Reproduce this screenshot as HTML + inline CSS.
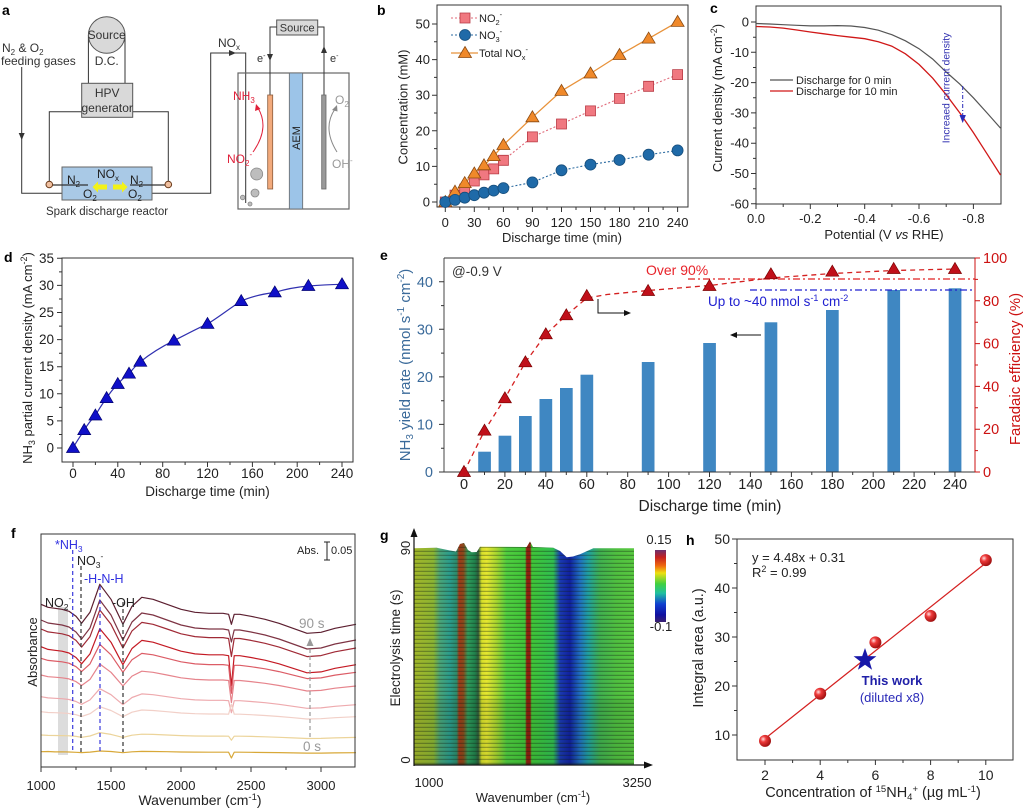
<!DOCTYPE html>
<html><head><meta charset="utf-8"><style>html,body{margin:0;padding:0;background:#fff}svg{display:block}</style></head>
<body>
<svg xmlns="http://www.w3.org/2000/svg" width="1024" height="808" viewBox="0 0 1024 808" font-family="Liberation Sans, Arial, sans-serif">
<defs>
<path id="tri" d="M0,-6.5L6.5,4.5H-6.5Z"/>
<path id="sq" d="M-5,-5h10v10h-10Z"/>
<radialGradient id="sph" cx="0.35" cy="0.35" r="0.7"><stop offset="0" stop-color="#ffe0e0"/><stop offset="0.35" stop-color="#ee3a3a"/><stop offset="1" stop-color="#9a0c0c"/></radialGradient>
<linearGradient id="hm" x1="414" y1="0" x2="634" y2="0" gradientUnits="userSpaceOnUse">
<stop offset="0" stop-color="#a2b62a"/><stop offset="0.088" stop-color="#8cb432"/><stop offset="0.118" stop-color="#4aa478"/><stop offset="0.164" stop-color="#2a9c8c"/><stop offset="0.194" stop-color="#2e8a6a"/><stop offset="0.205" stop-color="#a03818"/><stop offset="0.225" stop-color="#8a4a1c"/><stop offset="0.245" stop-color="#2e9c5c"/><stop offset="0.277" stop-color="#20804c"/><stop offset="0.292" stop-color="#2e5a3a"/><stop offset="0.308" stop-color="#d6de2a"/><stop offset="0.33" stop-color="#e6e630"/><stop offset="0.376" stop-color="#a6d630"/><stop offset="0.421" stop-color="#50ce40"/><stop offset="0.505" stop-color="#40c638"/><stop offset="0.512" stop-color="#902010"/><stop offset="0.528" stop-color="#902010"/><stop offset="0.535" stop-color="#40c638"/><stop offset="0.633" stop-color="#30be50"/><stop offset="0.664" stop-color="#1a3ab0"/><stop offset="0.709" stop-color="#1020a0"/><stop offset="0.755" stop-color="#2070c0"/><stop offset="0.792" stop-color="#20a0a0"/><stop offset="0.845" stop-color="#40b050"/><stop offset="0.921" stop-color="#50c040"/><stop offset="1" stop-color="#58c840"/>
</linearGradient>
<pattern id="streak" x="0" y="0" width="220" height="4" patternUnits="userSpaceOnUse"><rect x="0" y="2.8" width="220" height="1" fill="#102010" opacity="0.42"/></pattern>
<linearGradient id="cb" x1="0" y1="0" x2="0" y2="1"><stop offset="0" stop-color="#6a3070"/><stop offset="0.1" stop-color="#c42020"/><stop offset="0.22" stop-color="#f06a10"/><stop offset="0.32" stop-color="#eee010"/><stop offset="0.47" stop-color="#40d040"/><stop offset="0.6" stop-color="#20c0a0"/><stop offset="0.75" stop-color="#1040d0"/><stop offset="0.9" stop-color="#1010a0"/><stop offset="1" stop-color="#3a2070"/></linearGradient>
</defs>
<rect width="1024" height="808" fill="#fff"/>

<!-- ================= Panel a ================= -->
<g fill="#333" font-size="12">
<text x="2" y="15" font-weight="bold" font-size="14" fill="#000">a</text>
<text x="2" y="52">N<tspan font-size="8" dy="3">2</tspan><tspan dy="-3"> &amp; O</tspan><tspan font-size="8" dy="3">2</tspan></text>
<text x="1" y="65">feeding gases</text>
</g>
<g stroke="#333" stroke-width="1" fill="none">
<polyline points="21.7,67 21.7,193.3 62,193.3"/>
<polyline points="152,193.3 210.7,193.3 210.7,53 245.7,53 245.7,203"/>
<line x1="88.4" y1="35" x2="88.4" y2="83.3"/>
<line x1="125" y1="35" x2="125" y2="83.3"/>
<polyline points="81.7,111.7 49.3,111.7 49.3,181"/>
<polyline points="132.7,111.7 168.3,111.7 168.3,181"/>
</g>
<polygon points="21.7,140 18.7,133 24.7,133" fill="#333"/>
<polygon points="236,53 229,50 229,56" fill="#333"/>
<circle cx="106.7" cy="35" r="18.3" fill="#d9d9d9" stroke="#555" stroke-width="1"/>
<text x="106.7" y="39" font-size="12" text-anchor="middle" fill="#333">Source</text>
<text x="106.7" y="65" font-size="12" text-anchor="middle" fill="#333">D.C.</text>
<rect x="81.7" y="83.3" width="51" height="34" fill="#d9d9d9" stroke="#555"/>
<text x="107.2" y="97" font-size="12" text-anchor="middle" fill="#333">HPV</text>
<text x="107.2" y="112" font-size="12" text-anchor="middle" fill="#333">generator</text>
<rect x="62" y="167" width="90" height="33" fill="#a9c9e6" stroke="#666"/>
<line x1="49.3" y1="185" x2="88" y2="185" stroke="#333" stroke-width="1.2"/>
<line x1="130" y1="185" x2="168.3" y2="185" stroke="#333" stroke-width="1.2"/>
<circle cx="49.3" cy="184.5" r="3.3" fill="#f0c0a0" stroke="#6a3a1a"/>
<circle cx="168.3" cy="184.5" r="3.3" fill="#f0c0a0" stroke="#6a3a1a"/>
<polygon points="107,184.5 98,184.5 98,181.5 92.5,187 98,192.5 98,189.5 107,189.5" fill="#f2f218"/>
<polygon points="113,184.5 122,184.5 122,181.5 127.5,187 122,192.5 122,189.5 113,189.5" fill="#f2f218"/>
<g font-size="12" fill="#222">
<text x="67" y="184">N<tspan font-size="8" dy="3">2</tspan></text>
<text x="83" y="198">O<tspan font-size="8" dy="3">2</tspan></text>
<text x="97" y="178">NO<tspan font-size="8" dy="3">x</tspan></text>
<text x="130" y="184">N<tspan font-size="8" dy="3">2</tspan></text>
<text x="128" y="198">O<tspan font-size="8" dy="3">2</tspan></text>
</g>
<text x="107" y="215" font-size="11.5" text-anchor="middle" fill="#333">Spark discharge reactor</text>
<text x="218" y="47" font-size="12" fill="#333">NO<tspan font-size="8" dy="3">x</tspan></text>
<!-- cell -->
<rect x="238" y="73" width="111" height="136" fill="none" stroke="#666" stroke-width="1.2"/>
<rect x="276.7" y="20" width="41" height="15" fill="#d9d9d9" stroke="#555"/>
<text x="297.2" y="31.5" font-size="11" text-anchor="middle" fill="#333">Source</text>
<polyline points="276.7,27 270,27 270,95" fill="none" stroke="#333"/>
<polyline points="317.7,27 324,27 324,95" fill="none" stroke="#333"/>
<polygon points="270,61 267,54 273,54" fill="#333"/>
<polygon points="324,46 321,53 327,53" fill="#333"/>
<text x="257" y="62" font-size="11" fill="#333">e<tspan font-size="7" dy="-4">-</tspan></text>
<text x="330" y="62" font-size="11" fill="#333">e<tspan font-size="7" dy="-4">-</tspan></text>
<rect x="267.7" y="95" width="5" height="94" fill="#f2aa7c" stroke="#8a5a3a" stroke-width="0.8"/>
<rect x="321.7" y="95" width="4.3" height="94" fill="#9a9a9a" stroke="#666" stroke-width="0.8"/>
<rect x="289.3" y="73" width="13.4" height="136" fill="#9cc4e8" stroke="#666" stroke-width="0.8"/>
<text transform="translate(300,138) rotate(-90)" font-size="11" text-anchor="middle" fill="#222">AEM</text>
<text x="233" y="100" font-size="12" fill="#e0203a">NH<tspan font-size="8" dy="3">3</tspan></text>
<text x="227" y="163" font-size="12" fill="#e0203a">NO<tspan font-size="8" dy="3">2</tspan><tspan font-size="8" dy="-9">-</tspan></text>
<path d="M253,152 Q270,128 258,108" fill="none" stroke="#e0203a" stroke-width="1"/>
<polygon points="256,104 255,111 260.5,109" fill="#e0203a"/>
<text x="335" y="104" font-size="12" fill="#999">O<tspan font-size="8" dy="3">2</tspan></text>
<text x="332" y="168" font-size="12" fill="#999">OH<tspan font-size="8" dy="-5">-</tspan></text>
<path d="M337,152 Q322,128 335,109" fill="none" stroke="#888" stroke-width="1"/>
<polygon points="337,105 332,110 337.5,111.5" fill="#888"/>
<g fill="#bdbdbd" stroke="#888" stroke-width="0.8">
<circle cx="256.7" cy="174" r="6"/><circle cx="255" cy="193" r="4"/><circle cx="242.7" cy="197.5" r="2.3"/><circle cx="250" cy="204" r="2"/>
</g>

<!-- ================= Panel b ================= -->
<text x="377" y="15" font-weight="bold" font-size="14">b</text>
<rect x="437" y="5" width="251" height="202" fill="none" stroke="#333" stroke-width="1"/>
<path d="M437,202h-5M437,166.4h-5M437,130.8h-5M437,95.2h-5M437,59.6h-5M437,24h-5M437,184.2h-3M437,148.6h-3M437,113h-3M437,77.4h-3M437,41.8h-3M445.3,207v5M474.3,207v5M503.4,207v5M532.4,207v5M561.5,207v5M590.5,207v5M619.5,207v5M648.6,207v5M677.6,207v5M459.8,207v3M488.9,207v3M517.9,207v3M547,207v3M576,207v3M605,207v3M634,207v3M663.1,207v3" stroke="#333" fill="none"/>
<g font-size="13" text-anchor="end" fill="#222">
<text x="430" y="206.5">0</text><text x="430" y="170.9">10</text><text x="430" y="135.3">20</text><text x="430" y="99.7">30</text><text x="430" y="64.1">40</text><text x="430" y="28.5">50</text>
</g>
<g font-size="13" text-anchor="middle" fill="#222">
<text x="445.3" y="227">0</text><text x="474.3" y="227">30</text><text x="503.4" y="227">60</text><text x="532.4" y="227">90</text><text x="561.5" y="227">120</text><text x="590.5" y="227">150</text><text x="619.5" y="227">180</text><text x="648.6" y="227">210</text><text x="677.6" y="227">240</text>
<text x="562" y="242">Discharge time (min)</text>
<text transform="translate(407.5,107) rotate(-90)">Concentration (mM)</text>
</g>
<polyline points="445.3,202 455,195.2 464.7,189.2 474.3,181 484,174.9 493.7,168.9 503.4,160.3 532.4,136.9 561.5,124 590.5,110.9 619.5,98.4 648.6,86.3 677.6,74.6" fill="none" stroke="#e06878" stroke-width="1.1" stroke-dasharray="2,2"/>
<polyline points="445.3,202 455,199.9 464.7,197.7 474.3,195.2 484,192.7 493.7,190.6 503.4,188.1 532.4,182.4 561.5,170.3 590.5,164.6 619.5,160 648.6,154.7 677.6,150.4" fill="none" stroke="#2a6aa0" stroke-width="1.1" stroke-dasharray="2,2"/>
<polyline points="445.3,202 455,191.7 464.7,183.1 474.3,173.5 484,165.3 493.7,156.1 503.4,145 532.4,117.3 561.5,90.9 590.5,73.5 619.5,55 648.6,38.6 677.6,21.9" fill="none" stroke="#e8923a" stroke-width="1.3"/>
<g fill="#f07880" stroke="#b83a44" stroke-width="0.8">
<use href="#sq" x="445.3" y="202"/><use href="#sq" x="455" y="195.2"/><use href="#sq" x="464.7" y="189.2"/><use href="#sq" x="474.3" y="181"/><use href="#sq" x="484" y="174.9"/><use href="#sq" x="493.7" y="168.9"/><use href="#sq" x="503.4" y="160.3"/><use href="#sq" x="532.4" y="136.9"/><use href="#sq" x="561.5" y="124"/><use href="#sq" x="590.5" y="110.9"/><use href="#sq" x="619.5" y="98.4"/><use href="#sq" x="648.6" y="86.3"/><use href="#sq" x="677.6" y="74.6"/>
</g>
<g fill="#f0892a" stroke="#8a4a12" stroke-width="0.8">
<use href="#tri" x="445.3" y="202"/><use href="#tri" x="455" y="191.7"/><use href="#tri" x="464.7" y="183.1"/><use href="#tri" x="474.3" y="173.5"/><use href="#tri" x="484" y="165.3"/><use href="#tri" x="493.7" y="156.1"/><use href="#tri" x="503.4" y="145"/><use href="#tri" x="532.4" y="117.3"/><use href="#tri" x="561.5" y="90.9"/><use href="#tri" x="590.5" y="73.5"/><use href="#tri" x="619.5" y="55"/><use href="#tri" x="648.6" y="38.6"/><use href="#tri" x="677.6" y="21.9"/>
</g>
<g fill="#1f6aa8" stroke="#174e7c" stroke-width="0.8">
<circle cx="445.3" cy="202" r="5.5"/><circle cx="455" cy="199.9" r="5.5"/><circle cx="464.7" cy="197.7" r="5.5"/><circle cx="474.3" cy="195.2" r="5.5"/><circle cx="484" cy="192.7" r="5.5"/><circle cx="493.7" cy="190.6" r="5.5"/><circle cx="503.4" cy="188.1" r="5.5"/><circle cx="532.4" cy="182.4" r="5.5"/><circle cx="561.5" cy="170.3" r="5.5"/><circle cx="590.5" cy="164.6" r="5.5"/><circle cx="619.5" cy="160" r="5.5"/><circle cx="648.6" cy="154.7" r="5.5"/><circle cx="677.6" cy="150.4" r="5.5"/>
</g>
<!-- legend b -->
<line x1="451" y1="18" x2="478" y2="18" stroke="#e06878" stroke-dasharray="2,2"/>
<use href="#sq" x="465" y="18" fill="#f07880" stroke="#b83a44" stroke-width="0.8"/>
<line x1="451" y1="35" x2="478" y2="35" stroke="#2a6aa0" stroke-dasharray="2,2"/>
<circle cx="465" cy="35" r="5.5" fill="#1f6aa8" stroke="#174e7c" stroke-width="0.8"/>
<line x1="451" y1="53" x2="478" y2="53" stroke="#e8923a" stroke-width="1.3"/>
<use href="#tri" x="465" y="53" fill="#f0892a" stroke="#8a4a12" stroke-width="0.8"/>
<g font-size="11" fill="#222">
<text x="479" y="22">NO<tspan font-size="7.5" dy="3">2</tspan><tspan font-size="7.5" dy="-8">-</tspan></text>
<text x="479" y="39">NO<tspan font-size="7.5" dy="3">3</tspan><tspan font-size="7.5" dy="-8">-</tspan></text>
<text x="479" y="57">Total NO<tspan font-size="7.5" dy="3">x</tspan><tspan font-size="7.5" dy="-8">-</tspan></text>
</g>

<!-- ================= Panel c ================= -->
<text x="710" y="13" font-weight="bold" font-size="14">c</text>
<rect x="756" y="6" width="245" height="198" fill="none" stroke="#333"/>
<path d="M756,22h-5M756,52.3h-5M756,82.6h-5M756,112.9h-5M756,143.2h-5M756,173.5h-5M756,203.8h-5M756,37.2h-3M756,67.5h-3M756,97.8h-3M756,128h-3M756,158.4h-3M756,188.7h-3M756,204v5M810.3,204v5M864.7,204v5M919,204v5M973.4,204v5M783.2,204v3M837.5,204v3M891.9,204v3M946.2,204v3" stroke="#333" fill="none"/>
<g font-size="13" text-anchor="end" fill="#222">
<text x="749" y="26.5">0</text><text x="749" y="56.8">-10</text><text x="749" y="87.1">-20</text><text x="749" y="117.4">-30</text><text x="749" y="147.7">-40</text><text x="749" y="178">-50</text><text x="749" y="208.3">-60</text>
</g>
<g font-size="13" text-anchor="middle" fill="#222">
<text x="756" y="223">0.0</text><text x="810.3" y="223">-0.2</text><text x="864.7" y="223">-0.4</text><text x="919" y="223">-0.6</text><text x="973.4" y="223">-0.8</text>
<text x="884" y="239">Potential (V <tspan font-style="italic">vs</tspan> RHE)</text>
<text transform="translate(722,98) rotate(-90)">Current density (mA cm<tspan font-size="9" dy="-5">-2</tspan><tspan dy="5">)</tspan></text>
</g>
<polyline points="756,23.5 769.6,24 783.2,24.7 796.8,25.3 810.3,25.9 823.9,25.9 837.5,25.6 851.1,26 864.7,27.5 878.3,30.2 891.9,34.7 905.4,40.8 919,48.7 932.6,59 946.2,72 959.8,84.1 973.4,97.8 987,112.9 1000.5,128.1" fill="none" stroke="#555" stroke-width="1.2"/>
<polyline points="756,26.5 769.6,27 783.2,28.1 796.8,30 810.3,32 823.9,33.8 837.5,35.6 851.1,37.2 864.7,38.7 878.3,41.7 891.9,46.2 905.4,53.8 919,64.4 932.6,78.1 946.2,94.7 959.8,112.9 973.4,132.6 987,153.8 1000.5,175" fill="none" stroke="#d01818" stroke-width="1.3"/>
<line x1="770" y1="80" x2="793" y2="80" stroke="#555" stroke-width="1.2"/>
<line x1="770" y1="91" x2="793" y2="91" stroke="#d01818" stroke-width="1.3"/>
<text x="796" y="84" font-size="11" fill="#222">Discharge for 0 min</text>
<text x="796" y="95" font-size="11" fill="#222">Discharge for 10 min</text>
<line x1="962.7" y1="86" x2="962.7" y2="116" stroke="#2a2ab8" stroke-dasharray="4,2,1,2"/>
<polygon points="962.7,123 959.5,115 965.9,115" fill="#2a2ab8"/>
<text transform="translate(949.5,88) rotate(-90)" font-size="10.3" text-anchor="middle" fill="#3030b0">Increaed current density</text>

<!-- ================= Panel d ================= -->
<text x="4" y="262" font-weight="bold" font-size="14">d</text>
<rect x="62" y="258" width="291" height="204" fill="none" stroke="#333"/>
<path d="M62,448h-5M62,420.9h-5M62,393.8h-5M62,366.7h-5M62,339.6h-5M62,312.5h-5M62,285.4h-5M62,258.3h-5M62,434.5h-3M62,407.4h-3M62,380.3h-3M62,353.2h-3M62,326.1h-3M62,299h-3M62,271.9h-3M73,462v5M117.8,462v5M162.7,462v5M207.5,462v5M252.4,462v5M297.2,462v5M342,462v5M95.4,462v3M140.3,462v3M185.1,462v3M230,462v3M274.8,462v3M319.6,462v3" stroke="#333" fill="none"/>
<g font-size="13.5" text-anchor="end" fill="#222">
<text x="54" y="452.5">0</text><text x="54" y="425.4">5</text><text x="54" y="398.3">10</text><text x="54" y="371.2">15</text><text x="54" y="344.1">20</text><text x="54" y="317">25</text><text x="54" y="289.9">30</text><text x="54" y="262.8">35</text>
</g>
<g font-size="13.5" text-anchor="middle" fill="#222">
<text x="73" y="478">0</text><text x="117.8" y="478">40</text><text x="162.7" y="478">80</text><text x="207.5" y="478">120</text><text x="252.4" y="478">160</text><text x="297.2" y="478">200</text><text x="342" y="478">240</text>
<text x="207.5" y="496">Discharge time (min)</text>
</g>
<text transform="translate(32,358) rotate(-90)" font-size="13" text-anchor="middle" fill="#222">NH<tspan font-size="9" dy="3">3</tspan><tspan dy="-3"> partial current density (mA cm</tspan><tspan font-size="9" dy="-5">-2</tspan><tspan dy="5">)</tspan></text>
<path d="M73,448 C78,439 82,434 84.2,430.1 C89,422 92,419 95.4,415.5 C100,407 103,403 106.6,398.1 C111,391 114,388 117.8,384 C122,379 125,377 129,373.7 C133,369 136,365 140.3,361.8 C150,354 161,347 173.9,340.7 C185,335 196,329 207.5,323.9 C219,317 230,308 241.2,301.1 C252,296 263,294 274.8,292.4 C286,289 297,287 308.4,286 C320,285 331,284.5 342,284.3" fill="none" stroke="#3030b0" stroke-width="1.2"/>
<g fill="#1010c8" stroke="#000070" stroke-width="0.7">
<use href="#tri" x="73" y="448"/><use href="#tri" x="84.2" y="430.1"/><use href="#tri" x="95.4" y="415.5"/><use href="#tri" x="106.6" y="398.1"/><use href="#tri" x="117.8" y="384"/><use href="#tri" x="129" y="373.7"/><use href="#tri" x="140.3" y="361.8"/><use href="#tri" x="173.9" y="340.7"/><use href="#tri" x="207.5" y="323.9"/><use href="#tri" x="241.2" y="301.1"/><use href="#tri" x="274.8" y="292.4"/><use href="#tri" x="308.4" y="286"/><use href="#tri" x="342" y="284.3"/>
</g>

<!-- ================= Panel e ================= -->
<text x="380" y="260" font-weight="bold" font-size="14">e</text>
<g fill="#3f87c2">
<rect x="478.2" y="451.7" width="12.7" height="20.3"/><rect x="498.6" y="435.7" width="12.7" height="36.3"/><rect x="519" y="416" width="12.7" height="56"/><rect x="539.5" y="399" width="12.7" height="73"/><rect x="560" y="388" width="12.7" height="84"/><rect x="580.5" y="374.7" width="12.7" height="97.3"/><rect x="641.8" y="362" width="12.7" height="110"/><rect x="703.2" y="343" width="12.7" height="129"/><rect x="764.6" y="322.3" width="12.7" height="149.7"/><rect x="826" y="310" width="12.7" height="162"/><rect x="887.4" y="290" width="12.7" height="182"/><rect x="948.7" y="288.3" width="12.7" height="183.7"/>
</g>
<line x1="444" y1="258" x2="975" y2="258" stroke="#333"/>
<line x1="444" y1="472" x2="975" y2="472" stroke="#333"/>
<line x1="444" y1="258" x2="444" y2="472" stroke="#444"/>
<line x1="975" y1="258" x2="975" y2="472" stroke="#cc1111"/>
<path d="M444,472h-5M444,424.4h-5M444,376.9h-5M444,329.3h-5M444,281.8h-5M444,448.2h-3M444,400.7h-3M444,353.1h-3M444,305.6h-3M464,472v5M504.9,472v5M545.8,472v5M586.8,472v5M627.7,472v5M668.6,472v5M709.5,472v5M750.4,472v5M791.4,472v5M832.3,472v5M873.2,472v5M914.1,472v5M955,472v5M484.5,472v3M525.4,472v3M566.3,472v3M607.3,472v3M648.1,472v3M689,472v3M730,472v3M770.9,472v3M811.8,472v3M852.7,472v3M893.7,472v3M934.6,472v3" stroke="#333" fill="none"/>
<path d="M975,472h5M975,429.2h5M975,386.4h5M975,343.6h5M975,300.8h5M975,258h5M975,450.6h3M975,407.8h3M975,365h3M975,322.2h3M975,279.4h3" stroke="#cc1111" fill="none"/>
<g font-size="14.5" text-anchor="end" fill="#3a6a9a">
<text x="433" y="477">0</text><text x="433" y="429.4">10</text><text x="433" y="381.9">20</text><text x="433" y="334.3">30</text><text x="433" y="286.8">40</text>
</g>
<g font-size="14.5" fill="#cc1111">
<text x="983" y="477">0</text><text x="983" y="434.2">20</text><text x="983" y="391.4">40</text><text x="983" y="348.6">60</text><text x="983" y="305.8">80</text><text x="983" y="263">100</text>
</g>
<g font-size="14.5" text-anchor="middle" fill="#222">
<text x="464" y="489">0</text><text x="504.9" y="489">20</text><text x="545.8" y="489">40</text><text x="586.8" y="489">60</text><text x="627.7" y="489">80</text><text x="668.6" y="489">100</text><text x="709.5" y="489">120</text><text x="750.4" y="489">140</text><text x="791.4" y="489">160</text><text x="832.3" y="489">180</text><text x="873.2" y="489">200</text><text x="914.1" y="489">220</text><text x="955" y="489">240</text>
<text x="710" y="511" font-size="15.5">Discharge time (min)</text>
</g>
<text transform="translate(410,365) rotate(-90)" font-size="15" text-anchor="middle" fill="#3a6a9a">NH<tspan font-size="10" dy="3">3</tspan><tspan dy="-3"> yield rate (nmol s</tspan><tspan font-size="10" dy="-6">-1</tspan><tspan dy="6"> cm</tspan><tspan font-size="10" dy="-6">-2</tspan><tspan dy="6">)</tspan></text>
<text transform="translate(1020,369) rotate(-90)" font-size="15" text-anchor="middle" fill="#cc1111">Faradaic efficiency (%)</text>
<line x1="688" y1="279" x2="975" y2="279" stroke="#e02020" stroke-width="1.3" stroke-dasharray="7,3,2,3"/>
<line x1="750" y1="290" x2="975" y2="290" stroke="#2020d0" stroke-width="1.3" stroke-dasharray="7,3,2,3"/>
<polyline points="464,472 484.5,430.7 504.9,398.3 525.4,362.3 545.8,334.3 566.3,315.3 586.8,298 607,294.5 648.1,290.5 709.5,285.5 770.9,278 832.3,273.5 893.7,270.5 955,269" fill="none" stroke="#d42020" stroke-width="1.3" stroke-dasharray="5,4"/>
<g fill="#c0101a" stroke="#7a0000" stroke-width="0.7">
<use href="#tri" x="464" y="472"/><use href="#tri" x="484.5" y="430.7"/><use href="#tri" x="504.9" y="398.3"/><use href="#tri" x="525.4" y="362.3"/><use href="#tri" x="545.8" y="334.3"/><use href="#tri" x="566.3" y="315.3"/><use href="#tri" x="586.8" y="296"/><use href="#tri" x="648.1" y="291"/><use href="#tri" x="709.5" y="286"/><use href="#tri" x="770.9" y="274.3"/><use href="#tri" x="832.3" y="271.7"/><use href="#tri" x="893.7" y="269"/><use href="#tri" x="955" y="269"/>
</g>
<text x="452" y="276" font-size="13.5" fill="#333">@-0.9 V</text>
<text x="646" y="275" font-size="14" fill="#e8232a">Over 90%</text>
<text x="708" y="306" font-size="13.5" fill="#2020d0">Up to ~40 nmol s<tspan font-size="9" dy="-5">-1</tspan><tspan dy="5"> cm</tspan><tspan font-size="9" dy="-5">-2</tspan></text>
<polyline points="598,299 598,313 626,313" fill="none" stroke="#111" stroke-width="1"/>
<polygon points="631,313 624,310 624,316" fill="#111"/>
<line x1="761" y1="335" x2="735" y2="335" stroke="#111" stroke-width="1"/>
<polygon points="730,335 737,332 737,338" fill="#111"/>

<!-- ================= Panel f ================= -->
<text x="11" y="538" font-weight="bold" font-size="14">f</text>
<rect x="58" y="607" width="10" height="148" fill="#d6d6d6" opacity="0.85"/>
<g fill="none" stroke-width="1.2" stroke-linejoin="round">
<polyline stroke="#5c1f30" points="41,604.3 48,607.3 55,608.3 62,609.3 69,611.3 76,616.3 81.6,623.3 90,612.3 99.8,584.3 111,599.3 122.9,624.3 132,606.3 141.8,597.3 153,599.3 167,604.3 181,609.3 195,612.3 209,613.3 223,613.3 228.6,614.3 231.4,624.3 234.2,614.3 239.8,614.3 251,616.3 265,619.3 279,623.3 293,628.3 307,633.3 321,632.3 335,628.3 356,624.3"/>
<polyline stroke="#7e3444" points="41,620 48,623 55,624 62,625 69,627 76,632 81.6,639 90,628 99.8,600 111,615 122.9,640 132,622 141.8,613 153,615 167,620 181,625 195,628 209,629 223,629 228.6,630 231.4,642 234.2,630 239.8,630 251,632 265,635 279,639 293,644 307,649 321,648 335,644 356,640"/>
<polyline stroke="#a02a36" points="41,629 48,631.9 55,632.8 62,633.8 69,635.7 76,640.4 81.6,647.1 90,636.6 99.8,610 111,624.3 122.9,648 132,630.9 141.8,622.4 153,624.3 167,629 181,633.8 195,636.6 209,637.6 223,637.6 228.6,638.5 231.4,656.5 234.2,638.5 239.8,638.5 251,640.4 265,643.3 279,647.1 293,651.8 307,656.6 321,655.6 335,651.8 356,648"/>
<polyline stroke="#c41a24" points="41,646.7 48,649.4 55,650.3 62,651.2 69,653 76,657.5 81.6,663.8 90,653.9 99.8,628.7 111,642.2 122.9,664.7 132,648.5 141.8,640.4 153,642.2 167,646.7 181,651.2 195,653.9 209,654.8 223,654.8 228.6,655.7 231.4,685.7 234.2,655.7 239.8,655.7 251,657.5 265,660.2 279,663.8 293,668.3 307,672.8 321,671.9 335,668.3 356,664.7"/>
<polyline stroke="#dc5c66" points="41,658.3 48,660.4 55,661.1 62,661.8 69,663.2 76,666.7 81.6,671.6 90,663.9 99.8,644.3 111,654.8 122.9,672.3 132,659.7 141.8,653.4 153,654.8 167,658.3 181,661.8 195,663.9 209,664.6 223,664.6 228.6,665.3 231.4,693.3 234.2,665.3 239.8,665.3 251,666.7 265,668.8 279,671.6 293,675.1 307,678.6 321,677.9 335,675.1 356,672.3"/>
<polyline stroke="#e6848c" points="41,675 48,676.7 55,677.2 62,677.8 69,678.9 76,681.6 81.6,685.5 90,679.4 99.8,664 111,672.3 122.9,686 132,676.1 141.8,671.2 153,672.3 167,675 181,677.8 195,679.4 209,680 223,680 228.6,680.5 231.4,702.5 234.2,680.5 239.8,680.5 251,681.6 265,683.3 279,685.5 293,688.2 307,691 321,690.4 335,688.2 356,686"/>
<polyline stroke="#eeaaae" points="41,696.7 48,697.9 55,698.3 62,698.7 69,699.5 76,701.5 81.6,704.3 90,699.9 99.8,688.7 111,694.7 122.9,704.7 132,697.5 141.8,693.9 153,694.7 167,696.7 181,698.7 195,699.9 209,700.3 223,700.3 228.6,700.7 231.4,712.7 234.2,700.7 239.8,700.7 251,701.5 265,702.7 279,704.3 293,706.3 307,708.3 321,707.9 335,706.3 356,704.7"/>
<polyline stroke="#f2d0c8" points="41,711.7 48,712.5 55,712.7 62,713 69,713.5 76,714.7 81.6,716.5 90,713.7 99.8,706.7 111,710.5 122.9,716.7 132,712.2 141.8,710 153,710.5 167,711.7 181,713 195,713.7 209,714 223,714 228.6,714.2 231.4,704.2 234.2,714.2 239.8,714.2 251,714.7 265,715.5 279,716.5 293,717.7 307,719 321,718.7 335,717.7 356,716.7"/>
<polyline stroke="#ecd49a" points="41,735 48,735.4 55,735.5 62,735.6 69,735.8 76,736.4 81.6,737.3 90,736 99.8,732.6 111,734.4 122.9,737.4 132,735.2 141.8,734.2 153,734.4 167,735 181,735.6 195,736 209,736.1 223,736.1 228.6,736.2 231.4,740.2 234.2,736.2 239.8,736.2 251,736.4 265,736.8 279,737.3 293,737.9 307,738.5 321,738.4 335,737.9 356,737.4"/>
<polyline stroke="#d8a838" points="41,751.7 48,751.5 55,751.9 62,751.8 69,752 76,752.3 81.6,752.6 90,752.1 99.8,751 111,751.5 122.9,752.7 132,751.8 141.8,751.4 153,751.5 167,751.7 181,752 195,752.1 209,752.2 223,752.2 228.6,752.2 231.4,758 234.2,752.2 239.8,752.2 251,752.3 265,752.5 279,752.6 293,752.9 307,753.1 321,753.1 335,752.9 356,752.7"/>
</g>
<g stroke-width="1.2" stroke-dasharray="4,3">
<line x1="72.7" y1="550" x2="72.7" y2="752" stroke="#3a3adc"/>
<line x1="81" y1="566" x2="81" y2="752" stroke="#333"/>
<line x1="100" y1="586" x2="100" y2="752" stroke="#3a3adc"/>
<line x1="123" y1="602" x2="123" y2="752" stroke="#333"/>
</g>
<rect x="41" y="534" width="314" height="233" fill="none" stroke="#333"/>
<path d="M41,767v5M111,767v5M181,767v5M251,767v5M321,767v5M76,767v3M146,767v3M216,767v3M286,767v3" stroke="#333"/>
<g font-size="13" text-anchor="middle" fill="#222">
<text x="41" y="790">1000</text><text x="111" y="790">1500</text><text x="181" y="790">2000</text><text x="251" y="790">2500</text><text x="321" y="790">3000</text>
</g>
<text x="200" y="805" font-size="14" text-anchor="middle" fill="#222">Wavenumber (cm<tspan font-size="9.5" dy="-5">-1</tspan><tspan dy="5">)</tspan></text>
<text transform="translate(37,652) rotate(-90)" font-size="13" text-anchor="middle" fill="#222">Absorbance</text>
<g font-size="12.5">
<text x="55" y="549" fill="#3030e0">*NH<tspan font-size="8.5" dy="3">3</tspan></text>
<text x="77" y="565" fill="#222">NO<tspan font-size="8.5" dy="3">3</tspan><tspan font-size="8.5" dy="-9">-</tspan></text>
<text x="84" y="583" fill="#3030e0">-H-N-H</text>
<text x="45" y="607" fill="#222">NO<tspan font-size="8.5" dy="3">2</tspan><tspan font-size="8.5" dy="-9">-</tspan></text>
<text x="112" y="607" fill="#222">-OH</text>
</g>
<text x="297" y="554" font-size="11" fill="#222">Abs.</text>
<path d="M327,542v18M324,542h6M324,560h6" stroke="#222" fill="none"/>
<text x="331" y="554" font-size="11" fill="#222">0.05</text>
<text x="299" y="628" font-size="13.5" fill="#9a9a9a">90 s</text>
<text x="303" y="751" font-size="13.5" fill="#9a9a9a">0 s</text>
<line x1="310" y1="737" x2="310" y2="645" stroke="#9a9a9a" stroke-width="1.2" stroke-dasharray="4,3"/>
<polygon points="310,638 306.5,646 313.5,646" fill="#9a9a9a"/>

<!-- ================= Panel g ================= -->
<text x="380" y="540" font-weight="bold" font-size="14">g</text>
<path d="M414,548.3 L436.7,547.7 L450,550.5 L456,551.5 L460,544 L464,543 L468,550 L471.7,552.3 L476.7,552 L480,546.7 L526.7,547 L530,541.5 L533,547 L553.3,547.7 L560,551 L566.7,557.3 L573,556.5 L580,554.3 L593.3,548.3 L634,548.3 L634,765 L414,765 Z" fill="url(#hm)"/>
<path d="M414,548.3 L436.7,547.7 L450,550.5 L456,551.5 L460,544 L464,543 L468,550 L471.7,552.3 L476.7,552 L480,546.7 L526.7,547 L530,541.5 L533,547 L553.3,547.7 L560,551 L566.7,557.3 L573,556.5 L580,554.3 L593.3,548.3 L634,548.3 L634,765 L414,765 Z" fill="url(#streak)"/>
<rect x="414" y="700" width="220" height="65" fill="#0a1a0a" opacity="0.08"/>
<line x1="414" y1="766" x2="414" y2="535" stroke="#111" stroke-width="1.2"/>
<polygon points="414,528 410.5,537 417.5,537" fill="#111"/>
<line x1="414" y1="765" x2="646" y2="765" stroke="#111" stroke-width="1.2"/>
<polygon points="653,765 644,761.5 644,768.5" fill="#111"/>
<g font-size="13" text-anchor="middle" fill="#222">
<text transform="translate(410,548) rotate(-90)">90</text>
<text transform="translate(410,760) rotate(-90)">0</text>
<text transform="translate(400,648) rotate(-90)" font-size="13.5">Electrolysis time (s)</text>
<text x="429" y="787">1000</text><text x="637" y="787">3250</text>
<text x="533" y="802">Wavenumber (cm<tspan font-size="9" dy="-5">-1</tspan><tspan dy="5">)</tspan></text>
<text x="659" y="544">0.15</text>
<text x="661" y="631">-0.1</text>
</g>
<rect x="655" y="550" width="11" height="72" fill="url(#cb)"/>

<!-- ================= Panel h ================= -->
<text x="686" y="545" font-weight="bold" font-size="14">h</text>
<rect x="737" y="539" width="276" height="221" fill="none" stroke="#333"/>
<path d="M737,735h-5M737,686h-5M737,637h-5M737,588h-5M737,539h-5M737,710.5h-3M737,661.5h-3M737,612.5h-3M737,563.5h-3M765,760v5M820.2,760v5M875.4,760v5M930.6,760v5M985.8,760v5M792.6,760v3M847.8,760v3M903,760v3M958.2,760v3" stroke="#333"/>
<g font-size="14" text-anchor="end" fill="#222">
<text x="730" y="740">10</text><text x="730" y="691">20</text><text x="730" y="642">30</text><text x="730" y="593">40</text><text x="730" y="544">50</text>
</g>
<g font-size="14" text-anchor="middle" fill="#222">
<text x="765" y="780">2</text><text x="820.2" y="780">4</text><text x="875.4" y="780">6</text><text x="930.6" y="780">8</text><text x="985.8" y="780">10</text>
<text x="873" y="797" font-size="14.5">Concentration of <tspan font-size="9.5" dy="-5">15</tspan><tspan dy="5">NH</tspan><tspan font-size="9.5" dy="3">4</tspan><tspan font-size="9.5" dy="-8">+</tspan><tspan dy="5"> (µg mL</tspan><tspan font-size="9.5" dy="-5">-1</tspan><tspan dy="5">)</tspan></text>
<text transform="translate(703,648) rotate(-90)" font-size="14.5">Integral area (a.u.)</text>
</g>
<line x1="765" y1="738.6" x2="985.8" y2="563" stroke="#d42020" stroke-width="1.2"/>
<g fill="url(#sph)">
<circle cx="765" cy="740.9" r="6"/><circle cx="820.2" cy="693.8" r="6"/><circle cx="875.4" cy="642.4" r="6"/><circle cx="930.6" cy="615.9" r="6"/><circle cx="985.8" cy="560.1" r="6"/>
</g>
<polygon points="865,648 867.82,656.12 876.41,656.29 869.57,661.48 872.05,669.71 865,664.8 857.95,669.71 860.43,661.48 853.59,656.29 862.18,656.12" fill="#1818a8"/>
<text x="752" y="562" font-size="13" fill="#222">y = 4.48x + 0.31</text>
<text x="752" y="577" font-size="13" fill="#222">R<tspan font-size="9" dy="-5">2</tspan><tspan dy="5"> = 0.99</tspan></text>
<text x="892" y="685" font-size="13" font-weight="bold" text-anchor="middle" fill="#2020a8">This work</text>
<text x="892" y="702" font-size="13" text-anchor="middle" fill="#2a2ab8">(diluted x8)</text>
</svg>
</body></html>
